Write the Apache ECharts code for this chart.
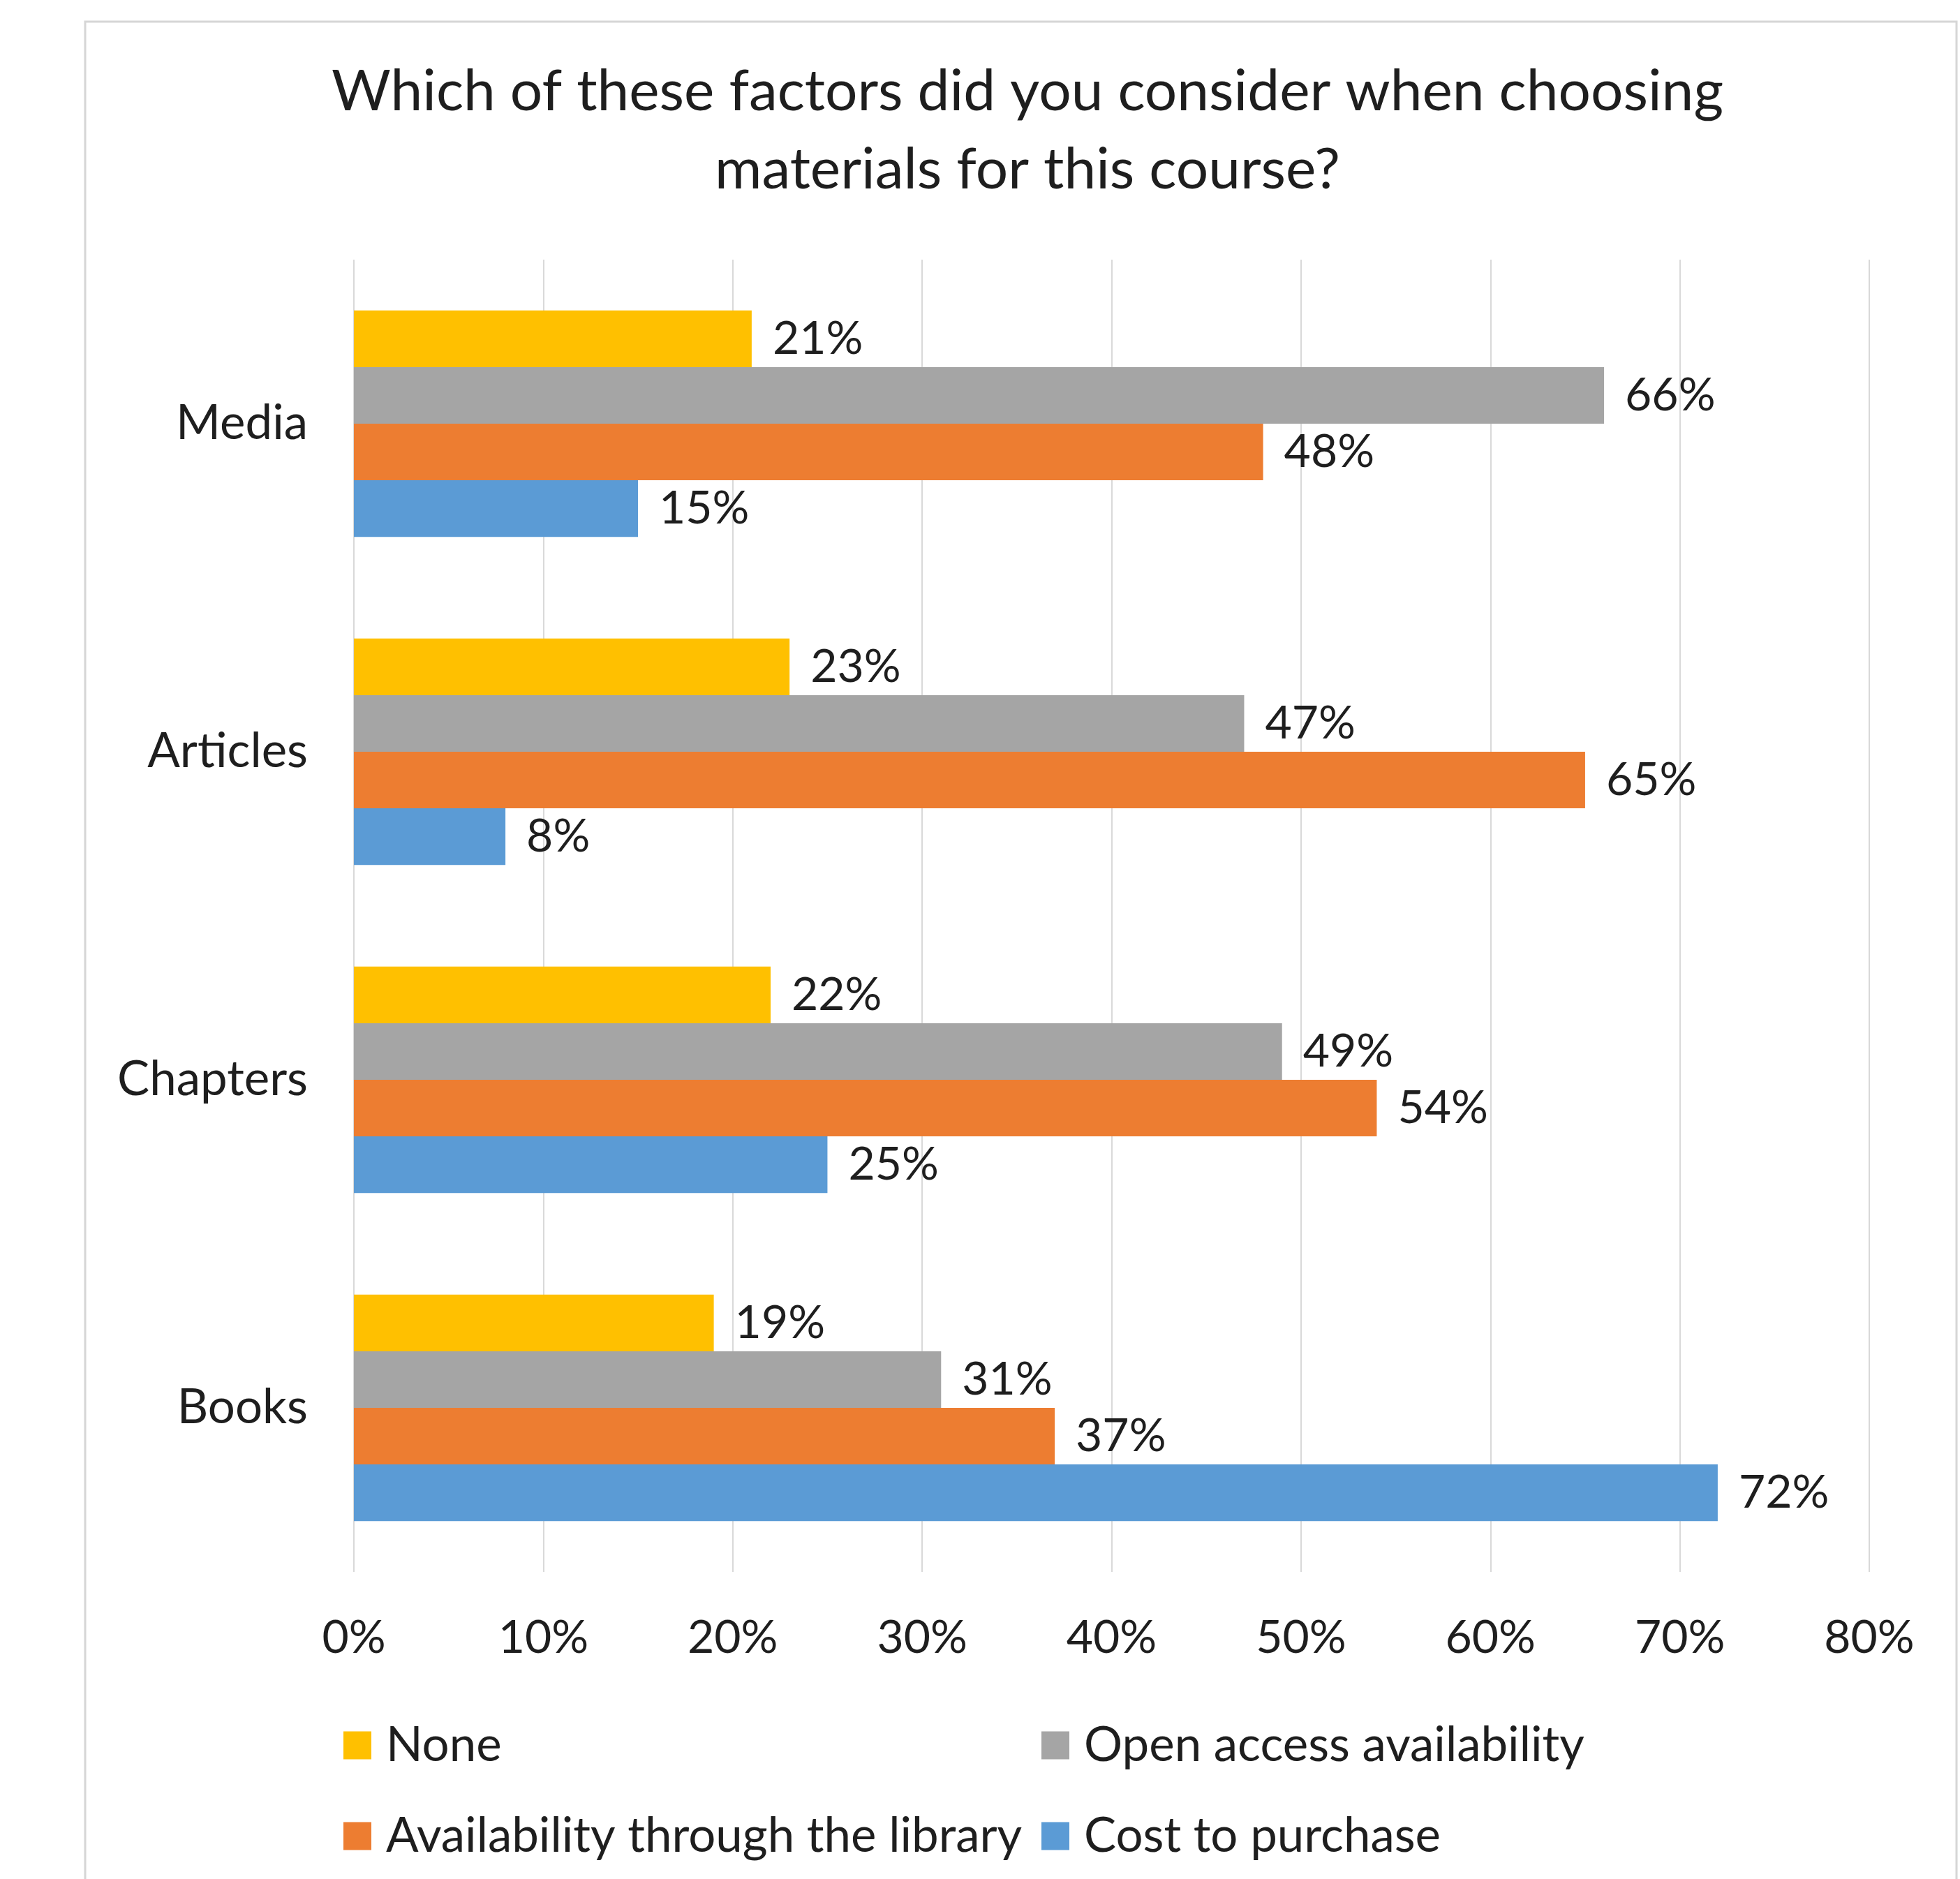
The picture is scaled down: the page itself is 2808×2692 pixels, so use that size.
<!DOCTYPE html>
<html>
<head>
<meta charset="utf-8">
<title>Factors considered when choosing course materials</title>
<script src="https://cdn.jsdelivr.net/npm/echarts@6/dist/echarts.min.js"></script>
<style>
  html, body { margin: 0; padding: 0; background: #ffffff; }
  #chart { width: 2808px; height: 2692px; }
</style>
</head>
<body>
<div id="chart"></div>
<script>
// Material types (top to bottom)
const categories = ['Media', 'Articles', 'Chapters', 'Books'];

// Share of respondents (%) citing each factor, per material type
const noneValues       = [21, 23, 22, 19];
const openAccessValues = [66, 47, 49, 31];
const libraryValues    = [48, 65, 54, 37];
const costValues       = [15, 8, 25, 72];

const seriesNames = [
  'None',
  'Open access availability',
  'Availability through the library',
  'Cost to purchase'
];
const seriesColors = ['#FFC000', '#A5A5A5', '#ED7D31', '#5B9BD5'];

// Value axis ticks
const axisMin = 0;
const axisMax = 80;
const axisStep = 10;

const titleText = 'Which of these factors did you consider when choosing\nmaterials for this course?';

const FONT = 'Lato, "Open Sans", "Noto Sans", sans-serif';
const TEXT_COLOR = '#1e1e1e';

const chart = echarts.init(document.getElementById('chart'), null, { renderer: 'canvas' });

const valueSets = [noneValues, openAccessValues, libraryValues, costValues];

const series = valueSets.map((vals, i) => ({
  name: seriesNames[i],
  type: 'bar',
  data: vals,
  barGap: '0%',
  barCategoryGap: '31%',
  itemStyle: { color: seriesColors[i] },
  label: {
    show: true,
    position: 'right',
    distance: 30,
    formatter: '{c}%',
    fontFamily: FONT,
    fontSize: 66,
    color: TEXT_COLOR
  }
}));

// Legend laid out as a 2 x 2 grid: one legend block per entry
const legendSlots = [
  { left: 492,  top: 2466 },  // None
  { left: 1492, top: 2466 },  // Open access availability
  { left: 492,  top: 2596 },  // Availability through the library
  { left: 1492, top: 2596 }   // Cost to purchase
];

const legends = seriesNames.map((name, i) => ({
  orient: 'horizontal',
  left: legendSlots[i].left,
  top: legendSlots[i].top,
  padding: 0,
  icon: 'rect',
  itemWidth: 40,
  itemHeight: 40,
  selectedMode: false,
  data: [name],
  textStyle: {
    fontFamily: FONT,
    fontSize: 69,
    color: TEXT_COLOR,
    lineHeight: 40,
    padding: [0, 0, 0, 16]
  }
}));

const option = {
  backgroundColor: '#ffffff',
  animation: false,
  graphic: [
    {
      type: 'rect',
      z: -10,
      silent: true,
      shape: { x: 122, y: 31, width: 2681, height: 2800 },
      style: { fill: '#ffffff', stroke: '#d6d6d6', lineWidth: 3 }
    },
    {
      type: 'text',
      x: 1472,
      y: 76,
      silent: true,
      style: {
        text: titleText,
        font: '82px ' + FONT,
        fill: TEXT_COLOR,
        textAlign: 'center',
        textVerticalAlign: 'top',
        lineHeight: 112
      }
    }
  ],
  grid: {
    left: 507,
    right: 130,
    top: 372,
    bottom: 440,
    containLabel: false
  },
  xAxis: {
    type: 'value',
    min: axisMin,
    max: axisMax,
    interval: axisStep,
    axisLine: { show: false },
    axisTick: { show: false },
    splitLine: { show: true, lineStyle: { color: '#d9d9d9', width: 2 } },
    axisLabel: {
      formatter: '{value}%',
      fontFamily: FONT,
      fontSize: 66,
      color: TEXT_COLOR,
      margin: 62
    }
  },
  yAxis: {
    type: 'category',
    data: categories,
    inverse: true,
    axisLine: { show: false },
    axisTick: { show: false },
    splitLine: { show: false },
    axisLabel: {
      fontFamily: FONT,
      fontSize: 69,
      color: TEXT_COLOR,
      margin: 66
    }
  },
  legend: legends,
  series: series
};

chart.setOption(option);
</script>
</body>
</html>
